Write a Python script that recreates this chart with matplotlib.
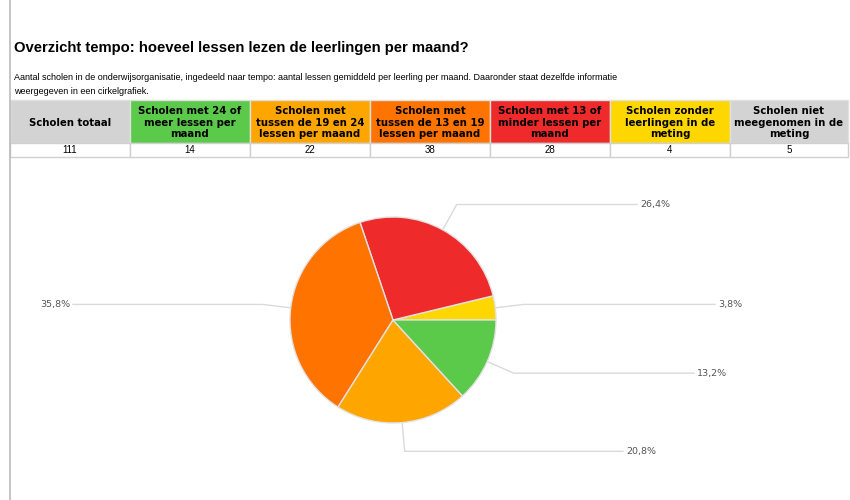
import numpy as np
import matplotlib.pyplot as plt
from matplotlib.patches import Rectangle

# table / pie data
headers = ["Scholen totaal",
           "Scholen met 24 of\nmeer lessen per\nmaand",
           "Scholen met\ntussen de 19 en 24\nlessen per maand",
           "Scholen met\ntussen de 13 en 19\nlessen per maand",
           "Scholen met 13 of\nminder lessen per\nmaand",
           "Scholen zonder\nleerlingen in de\nmeting",
           "Scholen niet\nmeegenomen in de\nmeting"]
counts = [111, 14, 22, 38, 28, 4, 5]
header_colors = ["#D3D3D3", "#5BC94A", "#FFA500", "#FF7300", "#EE2A2A", "#FFD700", "#D3D3D3"]

# pie order (counterclockwise from 0 degrees)
pie_values = [4, 28, 38, 22, 14]
pie_colors = ["#FFD700", "#EE2A2A", "#FF7300", "#FFA500", "#5BC94A"]
pie_labels = ["3,8%", "26,4%", "35,8%", "20,8%", "13,2%"]
label_x = [718, 640, 70, 626, 697]

narrow = ["Liberation Sans Narrow", "Liberation Sans", "DejaVu Sans"]

W, H = 850, 500
fig = plt.figure(figsize=(8.5, 5), dpi=100)
bg = fig.add_axes([0, 0, 1, 1])
bg.set_xlim(0, W)
bg.set_ylim(H, 0)
bg.axis("off")

bg.plot([10, 10], [0, H], color="#BBBBBB", lw=1.2)

bg.text(14, 48, "Overzicht tempo: hoeveel lessen lezen de leerlingen per maand?",
        fontsize=10.7, fontweight="bold", va="center", ha="left", color="black",
        family=narrow)
bg.text(14, 78, "Aantal scholen in de onderwijsorganisatie, ingedeeld naar tempo: aantal lessen gemiddeld per leerling per maand. Daaronder staat dezelfde informatie",
        fontsize=6.45, va="center", ha="left", family=narrow)
bg.text(14, 91, "weergegeven in een cirkelgrafiek.", fontsize=6.45, va="center", ha="left",
        family=narrow)

# table
x0, cw = 10, 120
top, hh, rh = 100, 43, 14
for i, (h, c, col) in enumerate(zip(headers, counts, header_colors)):
    x = x0 + i * cw
    w = cw if i < 6 else W - 2 - x
    bg.add_patch(Rectangle((x, top), w, hh, facecolor=col, edgecolor="#E0E0E0", lw=1))
    bg.add_patch(Rectangle((x, top + hh), w, rh, facecolor="white", edgecolor="#D0D0D0", lw=1))
    bg.text(x + w / 2, top + hh / 2 + 1, h, ha="center", va="center", fontsize=7.3,
            fontweight="bold", linespacing=1.15)
    bg.text(x + w / 2, top + hh + rh / 2, str(c), ha="center", va="center", fontsize=7,
            family=narrow)

# pie
cx, cy, r = 393, 320, 103
ax = fig.add_axes([(cx - r) / W, 1 - (cy + r) / H, 2 * r / W, 2 * r / H])
wedges, _ = ax.pie(pie_values, colors=pie_colors, startangle=0, counterclock=True,
                   wedgeprops=dict(edgecolor="#E2E2E2", linewidth=1))
ax.set_aspect("auto")
ax.set_xlim(-1, 1)
ax.set_ylim(-1, 1)

for wdg, lab, lx in zip(wedges, pie_labels, label_x):
    ang = np.deg2rad((wdg.theta1 + wdg.theta2) / 2)
    px, py = cx + r * np.cos(ang), cy - r * np.sin(ang)
    ex, ey = cx + 1.28 * r * np.cos(ang), cy - 1.28 * r * np.sin(ang)
    if lx > cx:
        bg.plot([px, ex, lx - 3], [py, ey, ey], color="#DADADA", lw=1)
        bg.text(lx, ey, lab, ha="left", va="center", fontsize=6.8, color="#555555")
    else:
        bg.plot([px, ex, lx + 3], [py, ey, ey], color="#DADADA", lw=1)
        bg.text(lx, ey, lab, ha="right", va="center", fontsize=6.8, color="#555555")

fig.savefig("out.png", dpi=100)
